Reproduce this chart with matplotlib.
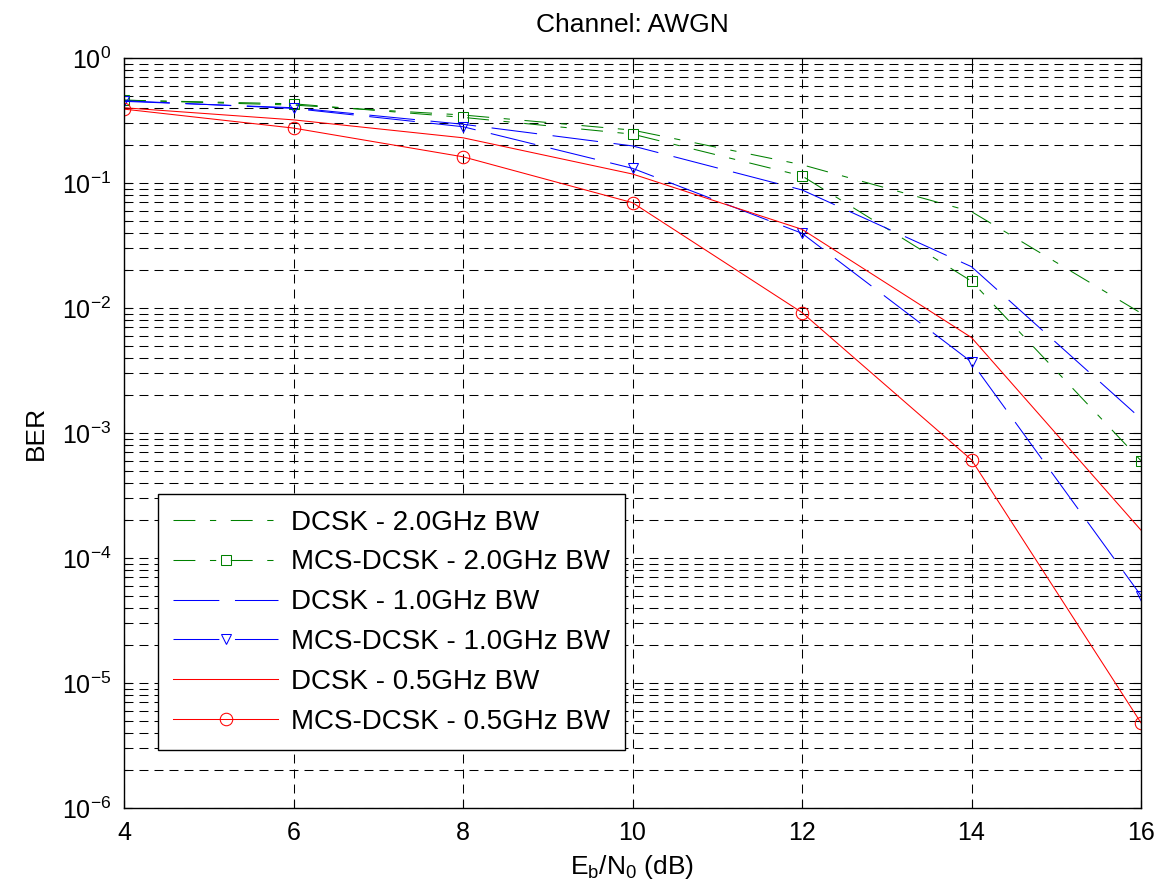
import numpy as np
import matplotlib
matplotlib.use("Agg")
import matplotlib.pyplot as plt
from matplotlib.ticker import LogLocator, NullLocator, FixedLocator

# Configure fonts (MATLAB look -> Arial-like)
plt.rcParams['font.family'] = ['Liberation Sans', 'DejaVu Sans']
plt.rcParams['mathtext.fontset'] = 'custom'
plt.rcParams['mathtext.rm'] = 'Liberation Sans'
plt.rcParams['mathtext.it'] = 'Liberation Sans:italic'
plt.rcParams['axes.unicode_minus'] = False

# Data
ebn0 = [4, 6, 8, 10, 12, 14, 16]
dcsk_2g = [0.46, 0.42, 0.35, 0.265, 0.14, 0.059, 0.0091]
mcs_2g = [0.46, 0.43, 0.335, 0.246, 0.114, 0.0164, 0.0006]
dcsk_1g = [0.45, 0.40, 0.295, 0.198, 0.088, 0.0214, 0.0013]
mcs_1g = [0.455, 0.395, 0.282, 0.131, 0.0396, 0.0037, 5.0e-5]
dcsk_05g = [0.40, 0.32, 0.23, 0.118, 0.0426, 0.0058, 1.67e-4]
mcs_05g = [0.39, 0.275, 0.162, 0.0696, 0.0092, 6.1e-4, 4.8e-6]

labels = ["DCSK - 2.0GHz BW", "MCS-DCSK - 2.0GHz BW",
          "DCSK - 1.0GHz BW", "MCS-DCSK - 1.0GHz BW",
          "DCSK - 0.5GHz BW", "MCS-DCSK - 0.5GHz BW"]

GREEN = '#008000'
BLUE = '#0000ff'
RED = '#ff0000'

LW = 0.75
DASHDOT = (0, (21, 14, 6, 14))
DASHED = (0, (44, 15))
GRID_DASH = (0, (8.6, 5.8))


def main():
    fig = plt.figure(figsize=(11.6, 8.91), dpi=100)
    ax = fig.add_axes([124/1160, 83/891, 1017/1160, 750/891])

    ax.semilogy(ebn0, dcsk_2g, color=GREEN, lw=LW, linestyle=DASHDOT, label=labels[0])
    ax.semilogy(ebn0, mcs_2g, color=GREEN, lw=LW, linestyle=DASHDOT, marker='s',
                ms=7, mfc='none', mew=LW, label=labels[1])
    ax.semilogy(ebn0, dcsk_1g, color=BLUE, lw=LW, linestyle=DASHED, label=labels[2])
    ax.semilogy(ebn0, mcs_1g, color=BLUE, lw=LW, linestyle=DASHED, marker='v',
                ms=7, mfc='none', mew=LW, label=labels[3])
    ax.semilogy(ebn0, dcsk_05g, color=RED, lw=LW, linestyle='-', label=labels[4])
    ax.semilogy(ebn0, mcs_05g, color=RED, lw=LW, linestyle='-', marker='o',
                ms=9, mfc='none', mew=LW, label=labels[5])

    ax.set_xlim(4, 16)
    ax.set_ylim(1e-6, 1)
    ax.xaxis.set_major_locator(FixedLocator(ebn0))
    ax.xaxis.set_minor_locator(NullLocator())
    ax.yaxis.set_major_locator(LogLocator(base=10, numticks=20))
    ax.yaxis.set_minor_locator(LogLocator(base=10, subs=np.arange(2, 10), numticks=100))

    ax.grid(True, which='major', axis='both', color='black', lw=LW, linestyle=GRID_DASH)
    ax.grid(True, which='minor', axis='y', color='black', lw=LW, linestyle=GRID_DASH)

    ax.tick_params(which='both', direction='in', top=True, right=True, labelsize=18)
    ax.tick_params(which='major', length=6, width=0.8, pad=9)
    ax.tick_params(which='minor', length=3, width=0.8)
    for sp in ax.spines.values():
        sp.set_linewidth(1.0)

    ax.set_title("Channel: AWGN", fontsize=19, pad=19)
    ax.set_xlabel(r"E$_\mathrm{b}$/N$_0$ (dB)", fontsize=19, labelpad=6)
    ax.set_ylabel("BER", fontsize=19, labelpad=10)

    leg = ax.legend(loc='lower left', bbox_to_anchor=(0.033, 0.077), borderaxespad=0,
                    fontsize=20, fancybox=False, framealpha=1, edgecolor='black',
                    handlelength=3.8, handletextpad=0.45, labelspacing=0.5,
                    borderpad=0.55, numpoints=1)
    leg.get_frame().set_linewidth(1.0)

    fig.savefig('out.png', dpi=100)


if __name__ == '__main__':
    main()
